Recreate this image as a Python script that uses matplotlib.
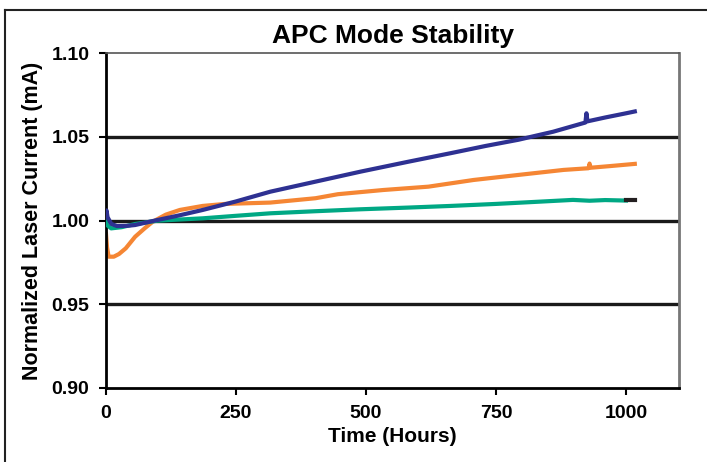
import matplotlib
matplotlib.use("Agg")
import matplotlib.pyplot as plt
from matplotlib.lines import Line2D

plt.rcParams['font.family'] = ['Liberation Sans', 'DejaVu Sans']
plt.rcParams['font.weight'] = 'bold'

# values (hours, normalized current)
blue_t = [0, 1, 3, 10, 21, 40, 56, 80, 99, 140, 186, 249, 316, 400, 490, 580, 663, 730, 793, 860, 922, 924, 926, 960, 1000, 1017]
blue_v = [1.004, 1.006, 1.002, 0.998, 0.9967, 0.9968, 0.9973, 0.9990, 1.0003, 1.003, 1.0063, 1.0113, 1.0172, 1.0230, 1.0292, 1.0350, 1.0402, 1.0445, 1.0482, 1.0530, 1.0585, 1.0640, 1.0592, 1.0615, 1.0640, 1.0651]

orange_t = [0, 2, 5, 15, 25, 38, 56, 75, 90, 115, 142, 186, 229, 316, 403, 446, 533, 620, 707, 793, 880, 928, 930, 932, 970, 1017]
orange_v = [0.992, 0.984, 0.9784, 0.9784, 0.9800, 0.9834, 0.9903, 0.9955, 0.9993, 1.0035, 1.0063, 1.0087, 1.0099, 1.0107, 1.0133, 1.0157, 1.0182, 1.0202, 1.0242, 1.0272, 1.0302, 1.0312, 1.0340, 1.0315, 1.0325, 1.0338]

green_t = [0, 3, 10, 30, 56, 99, 186, 250, 316, 400, 490, 580, 663, 750, 837, 898, 930, 960, 1000]
green_v = [0.9993, 0.997, 0.9953, 0.9960, 0.9979, 0.9999, 1.0013, 1.0028, 1.0043, 1.0055, 1.0067, 1.0077, 1.0087, 1.0099, 1.0113, 1.0123, 1.0118, 1.0122, 1.0119]

black_t = [1000, 1017]
black_v = [1.012, 1.012]

fig = plt.figure(figsize=(7.07, 4.62), dpi=100)
ax = fig.add_axes([106 / 707, 1 - 388 / 462, 573 / 707, 335 / 462])

for y in [0.95, 1.00, 1.05]:
    ax.axhline(y, color='#1a1a1a', lw=2.4, zorder=1)

ax.plot(green_t, green_v, color='#00A884', lw=3.0, zorder=3)
ax.plot(orange_t, orange_v, color='#F58634', lw=3.0, zorder=2)
ax.plot(blue_t, blue_v, color='#2E3192', lw=3.0, zorder=4)
ax.plot(black_t, black_v, color='#231F20', lw=3.0, zorder=5)

ax.set_xlim(0, 1102)
ax.set_ylim(0.90, 1.10)
ax.set_xticks([0, 250, 500, 750, 1000])
ax.set_yticks([0.90, 0.95, 1.00, 1.05, 1.10])
ax.set_yticklabels(['0.90', '0.95', '1.00', '1.05', '1.10'])
ax.tick_params(direction='out', length=5, width=1.5, labelsize=14, pad=7)
for lab in ax.get_xticklabels() + ax.get_yticklabels():
    lab.set_fontweight('bold')

ax.spines['left'].set_linewidth(2)
ax.spines['bottom'].set_linewidth(2)
ax.spines['top'].set_linewidth(1.2)
ax.spines['top'].set_color('#555555')
ax.spines['right'].set_linewidth(2)
ax.spines['right'].set_color('#777777')

ax.set_title('APC Mode Stability', fontsize=19, fontweight='bold', pad=7)
ax.set_xlabel('Time (Hours)', fontsize=15, fontweight='bold', labelpad=4)
ax.set_ylabel('Normalized Laser Current (mA)', fontsize=15.5, fontweight='bold', labelpad=6)

# outer frame of the figure
fig.add_artist(Line2D([5 / 707, 5 / 707], [0, 1 - 10 / 462], color='#222222', lw=1.5))
fig.add_artist(Line2D([5 / 707, 1], [1 - 10 / 462, 1 - 10 / 462], color='#222222', lw=1.5))

fig.savefig('out.png', dpi=100)
